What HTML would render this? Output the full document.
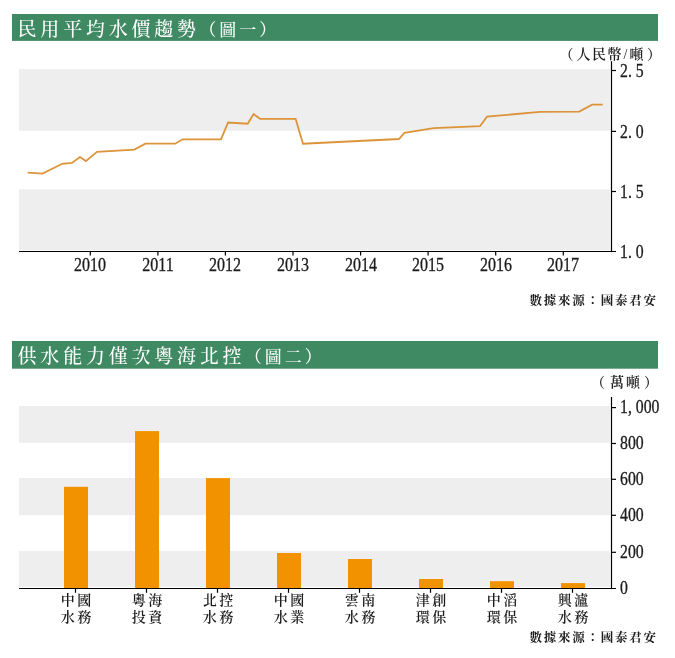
<!DOCTYPE html>
<html lang="zh-Hant">
<head>
<meta charset="utf-8">
<title>民用平均水價趨勢</title>
<style>
html,body{margin:0;padding:0;background:#fff;}
body{width:675px;height:658px;position:relative;overflow:hidden;font-family:"Liberation Serif","Noto Serif CJK SC",serif;color:#1c1c1c;}
.abs{position:absolute;white-space:nowrap;line-height:1;}
.bar{position:absolute;left:12px;width:646px;height:27px;}
.ttl{position:absolute;left:5.6px;top:2px;height:27px;line-height:27px;color:#fff;font-weight:500;font-size:19px;letter-spacing:3.77px;white-space:nowrap;}
.ttl small{font-size:17px;letter-spacing:3px;margin-left:-0.5px;}
.unit{font-weight:600;font-size:14px;letter-spacing:1.5px;}
.sl{display:inline-block;width:6.5px;text-align:center;font-weight:400;}
.n,.yr{-webkit-text-stroke:0.3px currentColor;}
.n{font-size:17.5px;transform-origin:0 50%;transform:scale(0.9,1.04);height:18px;line-height:18px;}
.n i.p{font-style:normal;display:inline-block;width:8.75px;text-align:left;}
.yr{font-size:17.5px;transform-origin:50% 50%;transform:scale(0.914,1.04);width:60px;text-align:center;height:18px;line-height:18px;}
.src{font-size:12.5px;letter-spacing:1.75px;font-weight:700;}
.cat{font-weight:600;font-size:14px;letter-spacing:2.6px;line-height:17px;text-align:center;width:60px;padding-left:2.6px;box-sizing:border-box;}
svg{position:absolute;left:0;top:0;}
</style>
</head>
<body>
<svg width="675" height="658" viewBox="0 0 675 658">
<rect x="12" y="14" width="646" height="26.9" fill="#3f8a62"/>
<rect x="12" y="341" width="646" height="27.7" fill="#3f8a62"/>
<rect x="19" y="69" width="591" height="61.8" fill="#eeeeee"/>
<rect x="19" y="189.3" width="591" height="61" fill="#eeeeee"/>
<polyline fill="none" stroke="#db9439" stroke-width="1.8" stroke-linejoin="miter" stroke-linecap="butt" points="27.7,172.7 42.5,173.6 62.2,163.8 71.9,162.9 80.0,157.0 85.9,161.1 97.0,151.9 134.4,149.6 145.3,143.7 175.2,143.7 182.6,139.3 221.0,139.3 228.1,122.5 247.7,123.7 253.6,114.1 260.0,118.8 295.6,118.8 303.0,143.7 398.9,139.0 404.4,132.9 433.7,128.1 480.0,126.2 487.0,116.6 540.0,111.9 579.3,111.6 592.1,104.7 602.8,104.7"/>
<g stroke="#000" stroke-width="1.2" fill="none">
<path d="M611.5 61.2V252.1"/>
<path d="M19 251.5H616"/>
<path d="M611.5 70.5H616"/>
<path d="M611.5 131.4H616"/>
<path d="M611.5 191.5H616"/>
<path d="M90.3 251.5V255.5"/>
<path d="M157.9 251.5V255.5"/>
<path d="M225.4 251.5V255.5"/>
<path d="M293.0 251.5V255.5"/>
<path d="M360.6 251.5V255.5"/>
<path d="M428.1 251.5V255.5"/>
<path d="M495.7 251.5V255.5"/>
<path d="M563.3 251.5V255.5"/>
</g>
<rect x="19" y="406.0" width="591" height="36.8" fill="#eeeeee"/>
<rect x="19" y="478.0" width="591" height="37.2" fill="#eeeeee"/>
<rect x="19" y="551.0" width="591" height="35.9" fill="#eeeeee"/>
<rect x="64.0" y="486.8" width="24" height="101.2" fill="#f39200"/>
<rect x="135.0" y="431.1" width="24" height="156.9" fill="#f39200"/>
<rect x="206.0" y="478.1" width="24" height="109.9" fill="#f39200"/>
<rect x="277.0" y="553.0" width="24" height="35.0" fill="#f39200"/>
<rect x="348.0" y="559.0" width="24" height="29.0" fill="#f39200"/>
<rect x="419.0" y="579.0" width="24" height="9.0" fill="#f39200"/>
<rect x="490.0" y="581.2" width="24" height="6.8" fill="#f39200"/>
<rect x="561.0" y="583.1" width="24" height="4.9" fill="#f39200"/>
<g stroke="#000" stroke-width="1.2" fill="none">
<path d="M611.5 397V589.1"/>
<path d="M19 588.5H616"/>
<path d="M611.5 407.6H616"/>
<path d="M611.5 443.5H616"/>
<path d="M611.5 479.3H616"/>
<path d="M611.5 515.3H616"/>
<path d="M611.5 552.3H616"/>
<path d="M75.5 588.5V592.8"/>
<path d="M146.5 588.5V592.8"/>
<path d="M217.5 588.5V592.8"/>
<path d="M288.5 588.5V592.8"/>
<path d="M359.5 588.5V592.8"/>
<path d="M430.5 588.5V592.8"/>
<path d="M501.5 588.5V592.8"/>
<path d="M572.5 588.5V592.8"/>
</g>
</svg>
<div class="bar" style="top:14px"><span class="ttl">民用平均水價趨勢<small>（圖一）</small></span></div>
<div class="bar" style="top:341px"><span class="ttl">供水能力僅次粵海北控<small>（圖二）</small></span></div>
<div class="abs unit" style="left:559.5px;top:47.5px"><span style="letter-spacing:3px">（</span>人民幣<span class="sl">/</span><span style="letter-spacing:3.5px">噸</span>）</div>
<div class="abs unit" style="left:591px;top:375.5px;letter-spacing:2px"><span style="letter-spacing:5px">（</span>萬<span style="letter-spacing:4px">噸</span>）</div>
<div class="abs n" style="left:620px;top:61.7px">2<i class="p">.</i>5</div>
<div class="abs n" style="left:620px;top:122.6px">2<i class="p">.</i>0</div>
<div class="abs n" style="left:620px;top:182.7px">1<i class="p">.</i>5</div>
<div class="abs n" style="left:620px;top:242.7px">1<i class="p">.</i>0</div>
<div class="abs yr" style="left:60.3px;top:255.8px">2010</div>
<div class="abs yr" style="left:127.9px;top:255.8px">2011</div>
<div class="abs yr" style="left:195.4px;top:255.8px">2012</div>
<div class="abs yr" style="left:263.0px;top:255.8px">2013</div>
<div class="abs yr" style="left:330.6px;top:255.8px">2014</div>
<div class="abs yr" style="left:398.1px;top:255.8px">2015</div>
<div class="abs yr" style="left:465.7px;top:255.8px">2016</div>
<div class="abs yr" style="left:533.3px;top:255.8px">2017</div>
<div class="abs n" style="left:620px;top:398.0px">1<i class="p">,</i>000</div>
<div class="abs n" style="left:620px;top:433.9px">800</div>
<div class="abs n" style="left:620px;top:469.7px">600</div>
<div class="abs n" style="left:620px;top:505.6px">400</div>
<div class="abs n" style="left:620px;top:542.6px">200</div>
<div class="abs n" style="left:620px;top:578.9px">0</div>
<div class="abs cat" style="left:46.0px;top:591.5px">中國<br>水務</div>
<div class="abs cat" style="left:117.0px;top:591.5px">粵海<br>投資</div>
<div class="abs cat" style="left:188.0px;top:591.5px">北控<br>水務</div>
<div class="abs cat" style="left:259.0px;top:591.5px">中國<br>水業</div>
<div class="abs cat" style="left:330.0px;top:591.5px">雲南<br>水務</div>
<div class="abs cat" style="left:401.0px;top:591.5px">津創<br>環保</div>
<div class="abs cat" style="left:472.0px;top:591.5px">中滔<br>環保</div>
<div class="abs cat" style="left:543.0px;top:591.5px">興瀘<br>水務</div>
<div class="abs src" style="left:529.5px;top:294.5px">數據來源：國泰君安</div>
<div class="abs src" style="left:529.5px;top:631.7px">數據來源：國泰君安</div>
</body>
</html>
